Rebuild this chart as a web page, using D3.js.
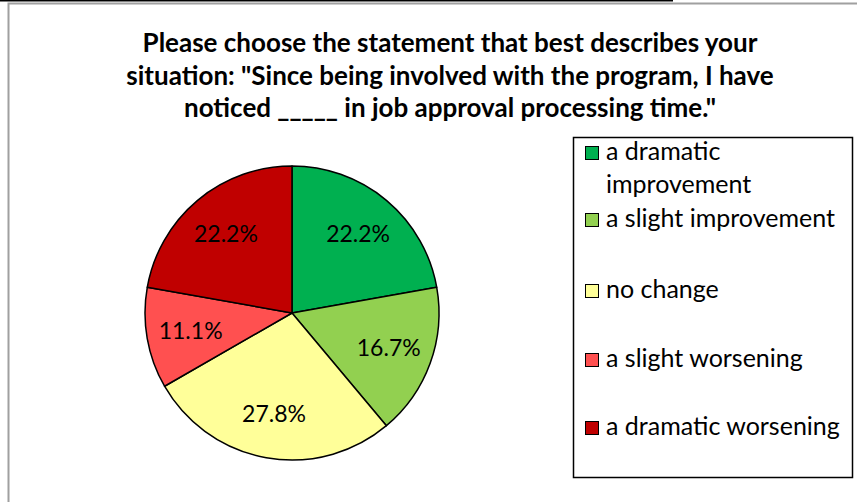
<!DOCTYPE html>
<html>
<head>
<meta charset="utf-8">
<script src="https://cdn.jsdelivr.net/npm/d3@7"></script>
<style>
  html, body { margin: 0; padding: 0; background: #fff; }
  svg { display: block; }
  text { font-family: Lato, "Open Sans", sans-serif; }
</style>
</head>
<body>
<svg id="chart" width="857" height="502"></svg>
<script>
// Survey responses on job approval processing time
const categories = [
  "a dramatic improvement",
  "a slight improvement",
  "no change",
  "a slight worsening",
  "a dramatic worsening"
];
const percentages = [22.2, 16.7, 27.8, 11.1, 22.2];
const sliceColors = ["#00B050", "#92D050", "#FFFF99", "#FF5050", "#C00000"];
const titleLines = [
  "Please choose the statement that best describes your",
  "situation: \"Since being involved with the program, I have",
  "noticed _____ in job approval processing time.\""
];
// legend text, wrapped the way it is laid out in the legend box
const legendLines = [
  ["a dramatic", "improvement"],
  ["a slight improvement"],
  ["no change"],
  ["a slight worsening"],
  ["a dramatic worsening"]
];

const svg = d3.select("#chart");

// page rule and chart frame
svg.append("line").attr("x1", 0).attr("x2", 673).attr("y1", 0.5).attr("y2", 0.5)
  .attr("stroke", "#000").attr("stroke-width", 2);
svg.append("path").attr("d", "M8.5,502 V3.5 H857")
  .attr("fill", "none").attr("stroke", "#a0a0a0").attr("stroke-width", 2);

// title
const title = svg.append("text")
  .attr("text-anchor", "middle")
  .attr("font-weight", "bold")
  .attr("font-size", 26)
  .attr("fill", "#000");
titleLines.forEach((t, i) => {
  title.append("tspan").attr("x", 450).attr("y", 52 + i * 32.5).text(t);
});

// pie
const cx = 292, cy = 313, radius = 147;
const pie = d3.pie().sort(null).value(d => d);
const arcs = pie(percentages);
const arc = d3.arc().innerRadius(0).outerRadius(radius);
const labelArc = d3.arc().innerRadius(radius * 0.70).outerRadius(radius * 0.70);
const color = d3.scaleOrdinal().domain(categories).range(sliceColors);

const g = svg.append("g").attr("transform", `translate(${cx},${cy})`);
g.selectAll("path.slice")
  .data(arcs)
  .join("path")
  .attr("class", "slice")
  .attr("d", arc)
  .attr("fill", (d, i) => color(categories[i]))
  .attr("stroke", "#000")
  .attr("stroke-width", 1.5)
  .attr("stroke-linejoin", "round");

g.selectAll("text.pct")
  .data(arcs)
  .join("text")
  .attr("class", "pct")
  .attr("transform", d => `translate(${labelArc.centroid(d)})`)
  .attr("text-anchor", "middle")
  .attr("dy", "0.35em")
  .attr("font-size", 23)
  .attr("fill", "#000")
  .text(d => d.data.toFixed(1) + "%");

// legend
const legend = svg.append("g");
legend.append("rect")
  .attr("x", 573.5).attr("y", 137.5).attr("width", 279).attr("height", 340)
  .attr("fill", "#fff").attr("stroke", "#000").attr("stroke-width", 1.5);

const baselines = [160, 227, 298, 367, 435];
categories.forEach((c, i) => {
  const y = baselines[i];
  legend.append("rect")
    .attr("x", 585.5).attr("y", y - 13.5).attr("width", 13).attr("height", 13)
    .attr("fill", color(c)).attr("stroke", "#000").attr("stroke-width", 1);
  const t = legend.append("text").attr("font-size", 25).attr("fill", "#000");
  legendLines[i].forEach((line, j) => {
    t.append("tspan").attr("x", 606).attr("y", y + j * 32.5).text(line);
  });
});
</script>
</body>
</html>
